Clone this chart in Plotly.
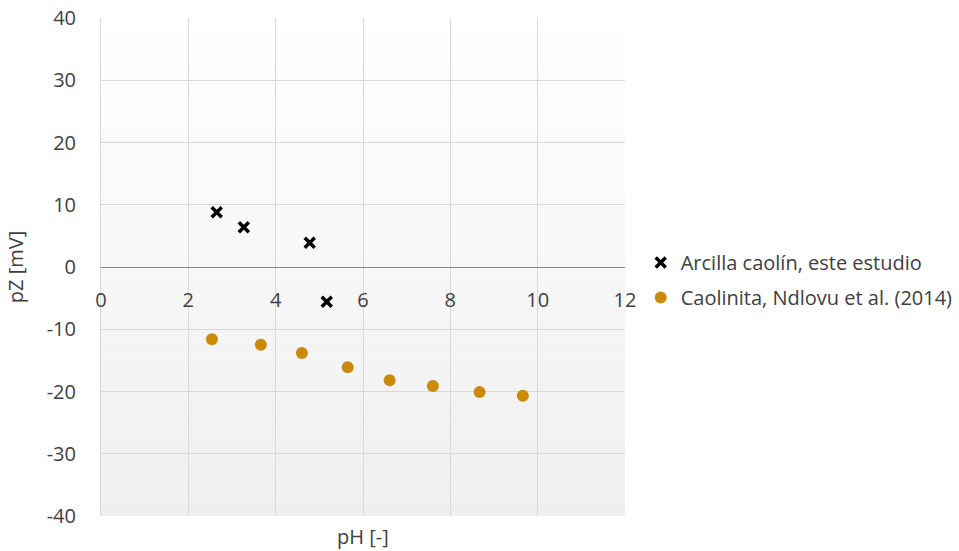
import plotly.graph_objects as go

# Data
ph_estudio = [2.65, 3.27, 4.78, 5.17]
pz_estudio = [8.8, 6.4, 3.9, -5.6]

ph_ndlovu = [2.54, 3.66, 4.60, 5.65, 6.61, 7.60, 8.67, 9.66]
pz_ndlovu = [-11.6, -12.5, -13.8, -16.1, -18.2, -19.1, -20.1, -20.7]

name_estudio = "Arcilla caolín, este estudio"
name_ndlovu = "Caolinita, Ndlovu et al. (2014)"

x_ticks = [0, 2, 4, 6, 8, 10, 12]
y_ticks = [-40, -30, -20, -10, 0, 10, 20, 30, 40]
y_ticktext = ["-40", "-30", "-20", "-10", "0", "10", "20", "30", "40"]

FONT = "Open Sans"
TXT = "#404040"
GRID = "#D9D9D9"
FS = 20

fig = go.Figure()
fig.add_trace(go.Scatter(
    x=ph_estudio, y=pz_estudio, mode="markers", name=name_estudio,
    legendgroup="a",
    marker=dict(symbol="x-thin", size=10, color="black",
                line=dict(width=3.5, color="black")),
))
fig.add_trace(go.Scatter(
    x=ph_ndlovu, y=pz_ndlovu, mode="markers", name=name_ndlovu,
    legendgroup="b",
    marker=dict(symbol="circle", size=12, color="#CC8A0A",
                line=dict(width=0)),
))

# vertical gradient background (white at top to light gray at bottom)
n = 40
for i in range(n):
    t = (i + 0.5) / n
    v = int(round(255 - (255 - 239) * t))
    fig.add_shape(type="rect", xref="x domain", yref="y domain",
                  x0=0, x1=1, y0=1 - (i + 1) / n, y1=1 - i / n,
                  fillcolor=f"rgb({v},{v},{v})", line=dict(width=0),
                  layer="below")

fig.update_layout(
    width=959, height=551,
    margin=dict(l=101, r=334, t=18, b=35, autoexpand=False),
    paper_bgcolor="white", plot_bgcolor="rgba(0,0,0,0)",
    font=dict(family=FONT, size=FS, color=TXT),
    showlegend=True,
    legend=dict(x=1.03, xanchor="left", xref="paper", y=0.474, yanchor="middle",
                font=dict(size=FS, color=TXT), bgcolor="rgba(0,0,0,0)",
                traceorder="grouped", tracegroupgap=6),
    xaxis=dict(range=[0, 12], tickvals=x_ticks, showgrid=True, gridcolor=GRID,
               gridwidth=1, zeroline=False, showline=True, linecolor="#888888",
               anchor="free", position=0.5, ticks="outside", ticklen=15,
               tickcolor="rgba(0,0,0,0)", tickfont=dict(size=FS, color=TXT),
               automargin=False),
    yaxis=dict(range=[-40, 40], tickvals=y_ticks, ticktext=y_ticktext,
               showgrid=True, gridcolor=GRID,
               gridwidth=1, zeroline=False, showline=True, linecolor=GRID,
               ticks="outside", ticklen=20, tickcolor="rgba(0,0,0,0)",
               tickfont=dict(size=FS, color=TXT), automargin=False,
               title=dict(text="pZ [mV]", font=dict(size=FS, color=TXT), standoff=17)),
)

fig.add_annotation(text="pH [-]", xref="x domain", yref="paper", x=0.5, y=0,
                   yshift=-20, yanchor="middle", showarrow=False,
                   font=dict(size=FS, color=TXT))

fig.write_html("out.html", config={"displayModeBar": False},
               post_script="document.body.style.margin='0';")
